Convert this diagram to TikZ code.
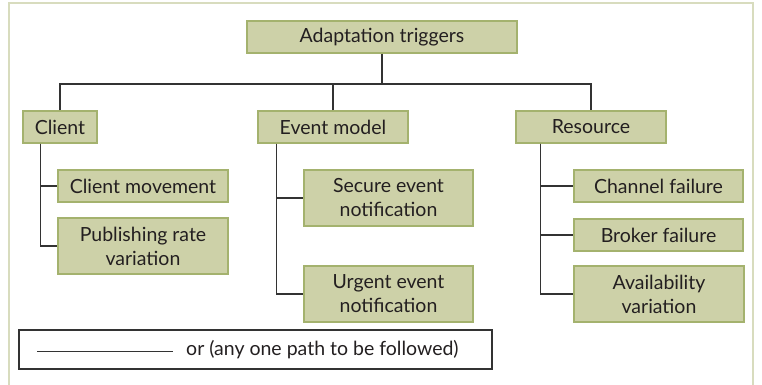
\documentclass[tikz,border=0pt]{standalone}
\usepackage{fontspec}
\setmainfont{Lato}
\definecolor{boxfill}{HTML}{CDD1A8}
\definecolor{boxedge}{HTML}{A4B26E}
\definecolor{framecol}{HTML}{D8DCBE}
\definecolor{inkcol}{HTML}{231F20}
\definecolor{linkcol}{HTML}{333333}
\newcommand{\labelfont}{\fontsize{19.5}{24}\selectfont}
\tikzset{
  tbox/.style={draw=boxedge, fill=boxfill, line width=1.2pt, text=inkcol,
    font=\labelfont, align=center, inner sep=0pt,
    minimum height=32pt},
  tallbox/.style={tbox, minimum height=56pt},
  link/.style={draw=linkcol, line width=1.3pt},
}
\begin{document}
\begin{tikzpicture}[x=1pt, y=-1pt]
\useasboundingbox (0,0) rectangle (762,385);
% outer frame, open at the bottom
\draw[framecol, line width=1.6pt] (9,385) -- (9,3) -- (753,3) -- (753,385);

% root and first level
\node[tbox, minimum width=270pt] (root) at (382,37) {Adaptation triggers};
\node[tbox, minimum width=74pt] (client) at (60,127) {Client};
\node[tbox, minimum width=150pt] (event) at (333,127) {Event model};
\node[tbox, minimum width=150pt] (res) at (591,127) {Resource};

% leaves
\node[tbox, minimum width=170pt] (cm) at (143,186) {Client movement};
\node[tallbox, minimum width=170pt] (prv) at (143,246) {Publishing rate\\variation};
\node[tallbox, minimum width=169pt] (sen) at (388.5,198) {Secure event\\notification};
\node[tallbox, minimum width=169pt] (uen) at (388.5,294) {Urgent event\\notification};
\node[tbox, minimum width=169pt] (cf) at (658.5,186) {Channel failure};
\node[tbox, minimum width=169pt] (bf) at (658.5,235) {Broker failure};
\node[tallbox, minimum width=170pt] (av) at (659,294) {Availability\\variation};

% root to first level
\coordinate (bus) at (0,84);
\draw[link] (root.south) -- (root.south |- bus);
\draw[link] (client.north) |- (root.south |- bus) -| (res.north);
\draw[link] (event.north) -- (event.north |- bus);

% first level to leaves
\draw[link] ([xshift=18pt]client.south west) |- (cm.west);
\draw[link] ([xshift=18pt]client.south west) |- (prv.west);
\draw[link] ([xshift=19pt]event.south west) |- (sen.west);
\draw[link] ([xshift=19pt]event.south west) |- (uen.west);
\draw[link] ([xshift=25pt]res.south west) |- (cf.west);
\draw[link] ([xshift=25pt]res.south west) |- (bf.west);
\draw[link] ([xshift=25pt]res.south west) |- (av.west);

% key
\node[draw=linkcol, fill=white, line width=1.2pt, minimum width=473pt,
  minimum height=39pt, inner sep=0pt] (key) at (255.5,349.5) {};
\coordinate (ka) at (37,351);
\coordinate (kb) at (173,351);
\draw[link, line width=1pt] (ka) -- (kb);
\node[anchor=west, text=inkcol, font=\labelfont, inner sep=0pt]
  (keytext) at (186,349.5) {or (any one path to be followed)};
\end{tikzpicture}
\end{document}
